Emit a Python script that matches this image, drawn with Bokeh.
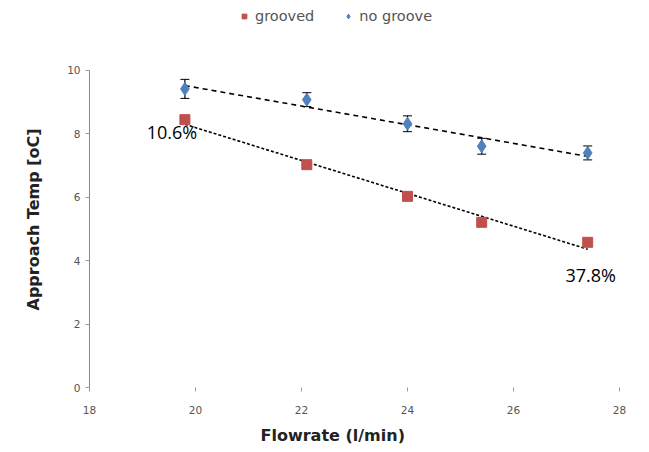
import numpy as np
from bokeh.plotting import figure
from bokeh.models import ColumnDataSource, Whisker, Legend, LegendItem, Label, FixedTicker, Title
from bokeh.embed import file_html
from bokeh.resources import INLINE

# Data
flow = [19.8, 22.1, 24.0, 25.4, 27.4]
grooved = [8.45, 7.03, 6.03, 5.21, 4.58]
grooved_err = [0.08, 0.12, 0.08, 0.12, 0.08]
no_groove = [9.42, 9.08, 8.32, 7.61, 7.40]
no_groove_err = [0.30, 0.22, 0.25, 0.25, 0.22]
y_ticks = [0, 2, 4, 6, 8, 10]
x_ticks = [18, 20, 22, 24, 26, 28]
pct_labels = ["10.6%", "37.8%"]

RED = "#C0504D"
BLUE = "#4F81BD"
FONT = "DejaVu Sans"
PFONT = "Open Sans"

# frame extends above the y axis so the legend can sit at the top
p = figure(width=641, height=452, x_range=(18, 28), y_range=(0, 12.145),
           output_backend="svg", toolbar_location=None,
           min_border_left=89, min_border_right=22, min_border_top=2, min_border_bottom=65)
p.outline_line_color = None
p.grid.visible = False
p.background_fill_color = "white"

# axes
p.yaxis.ticker = FixedTicker(ticks=y_ticks)
p.xaxis.ticker = FixedTicker(ticks=x_ticks)
p.yaxis.bounds = (0, 10)
for ax in (p.xaxis, p.yaxis):
    ax.major_label_text_font = FONT
    ax.major_label_text_font_size = "10.5px"
    ax.major_label_text_color = "#555555"
    ax.minor_tick_line_color = None
    ax.major_tick_line_color = "#999999"
    ax.major_tick_in = 0
    ax.major_tick_out = 4
p.yaxis.axis_line_color = "#888888"
p.xaxis.axis_line_color = None
p.xaxis.major_label_standoff = 14

# axis titles as side titles (allow offsets)
ytitle = Title(text="Approach Temp [oC]", align="left", offset=77, standoff=43,
               text_font=FONT, text_font_style="bold", text_font_size="16px", text_color="#222222")
p.add_layout(ytitle, "left")
xtitle = Title(text="Flowrate (l/min)", align="left", offset=171, standoff=15,
               text_font=FONT, text_font_style="bold", text_font_size="16px", text_color="#222222")
p.add_layout(xtitle, "below")

# trendlines (linear fit of each series)
fx = np.array(flow)
for ys, dash in ((no_groove, "5 4"), (grooved, "3 2")):
    k, b = np.polyfit(fx, np.array(ys), 1)
    xs = np.array([flow[0], flow[-1]])
    p.line(xs, k * xs + b, line_color="black", line_width=1.6, line_dash=dash)

src = ColumnDataSource(dict(
    x=flow, g=grooved, n=no_groove,
    g_lo=[v - e for v, e in zip(grooved, grooved_err)],
    g_hi=[v + e for v, e in zip(grooved, grooved_err)],
    n_lo=[v - e for v, e in zip(no_groove, no_groove_err)],
    n_hi=[v + e for v, e in zip(no_groove, no_groove_err)],
))

wn = Whisker(source=src, base="x", lower="n_lo", upper="n_hi", line_color="black", line_width=1.2)
wn.upper_head.size = 9
wn.lower_head.size = 9
wn.upper_head.line_color = "black"
wn.lower_head.line_color = "black"
p.add_layout(wn)
wg = Whisker(source=src, base="x", lower="g_lo", upper="g_hi", line_color="black", line_width=1.2)
wg.upper_head.size = 0
wg.lower_head.size = 0
p.add_layout(wg)

rg = p.scatter("x", "g", source=src, marker="square", size=10, fill_color=RED, line_color=RED)
rn = p.scatter("x", "n", source=src, marker="diamond", size=13, fill_color=BLUE, line_color=BLUE)

# percentage annotations
p.add_layout(Label(x=flow[0], y=grooved[0], text=pct_labels[0], x_offset=-13, y_offset=-12,
                   text_align="center", text_baseline="middle", text_font=PFONT,
                   text_font_size="18px", text_color="black"))
p.add_layout(Label(x=flow[-1], y=grooved[-1], text=pct_labels[1], x_offset=3, y_offset=-33,
                   text_align="center", text_baseline="middle", text_font=PFONT,
                   text_font_size="18px", text_color="black"))

legend = Legend(items=[LegendItem(label="grooved", renderers=[rg]),
                       LegendItem(label="no groove", renderers=[rn])],
                orientation="horizontal", location=(149, 363),
                label_text_font=FONT, label_text_font_size="14.5px", label_text_color="#555555",
                glyph_width=12, glyph_height=12, spacing=28, label_standoff=5,
                border_line_color=None, background_fill_alpha=0, padding=0, margin=0)
p.add_layout(legend, "center")

open("out.html", "w").write(file_html(p, INLINE))
